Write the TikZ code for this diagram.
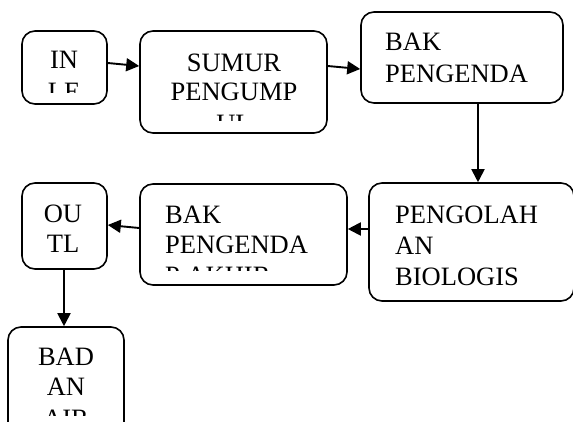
\documentclass[tikz,border=0pt]{standalone}
\usepackage{fontspec}
\setmainfont{Liberation Serif}
\usetikzlibrary{arrows.meta}
\begin{document}
\begin{tikzpicture}[x=1pt,y=-1pt,
  box/.style={draw, line width=1.6pt, rounded corners=13pt, inner sep=0pt},
  txt/.style={font=\fontsize{26.5}{30}\selectfont, inner sep=0pt},
  ctxt/.style={txt, anchor=base},
  ltxt/.style={txt, anchor=base west},
  conn/.style={line width=1.9pt, -{Triangle[length=13pt,width=13pt]}}]
\clip (0,0) rectangle (573,421);
% boxes
\node[box, minimum width=85pt, minimum height=73pt] (inlet) at (64.5,67.5) {};
\node[box, minimum width=187pt, minimum height=102pt] (sumur) at (233.5,82) {};
\node[box, minimum width=202pt, minimum height=91pt] (bak) at (462,57.5) {};
\node[box, minimum width=205pt, minimum height=118pt] (bio) at (471.5,242) {};
\node[box, minimum width=207pt, minimum height=101pt] (akhir) at (243.5,234.5) {};
\node[box, minimum width=85pt, minimum height=86pt] (outl) at (64.5,226) {};
\node[box, minimum width=116pt, minimum height=113pt] (badan) at (66,383.5) {};
% texts
\node[ctxt] (t1a) at (64,68) {IN};
\begin{scope}\clip (20,70) rectangle (110,92);
\node[ctxt] (t1b) at (64,100) {LE};\end{scope}
\node[ctxt] (t2a) at (234,71) {SUMUR};
\node[ctxt] (t2b) at (234,100) {PENGUMP};
\begin{scope}\clip (140,104) rectangle (327,120);
\node[ctxt] (t2c) at (234,132) {UL};\end{scope}
\node[ltxt] (t3a) at (385,50) {BAK};
\node[ltxt] (t3b) at (385,82) {PENGENDA};
\node[ltxt] (t4a) at (395,223) {PENGOLAH};
\node[ltxt] (t4b) at (395,254) {AN};
\node[ltxt] (t4c) at (395,285) {BIOLOGIS};
\node[ltxt] (t5a) at (165,223) {BAK};
\node[ltxt] (t5b) at (165,253) {PENGENDA};
\begin{scope}\clip (140,258) rectangle (347,270);
\node[ltxt] (t5c) at (165,284) {P AKHIR};\end{scope}
\node[ctxt] (t6a) at (63,222) {OU};
\node[ctxt] (t6b) at (63,252) {TL};
\node[ctxt] (t7a) at (66,365) {BAD};
\node[ctxt] (t7b) at (66,395) {AN};
\begin{scope}\clip (8,400) rectangle (124,415);
\node[ctxt] (t7c) at (66,427) {AIR};\end{scope}
% connectors
\draw[conn] ([yshift=4.5pt]inlet.east) -- ([yshift=16pt]sumur.west);
\draw[conn] ([yshift=16pt]sumur.east) -- ([yshift=-11.5pt]bak.west);
\draw[conn] ([xshift=16pt]bak.south) -- ([xshift=16pt]bak.south |- bio.north);
\draw[conn] ([yshift=13pt]bio.west) -- ([yshift=13pt]bio.west -| akhir.east);
\draw[conn] ([yshift=6.5pt]akhir.west) -- ([yshift=1pt]outl.east);
\draw[conn] ([xshift=-0.5pt]outl.south) -- ([xshift=-0.5pt]outl.south |- badan.north);
\end{tikzpicture}
\end{document}
